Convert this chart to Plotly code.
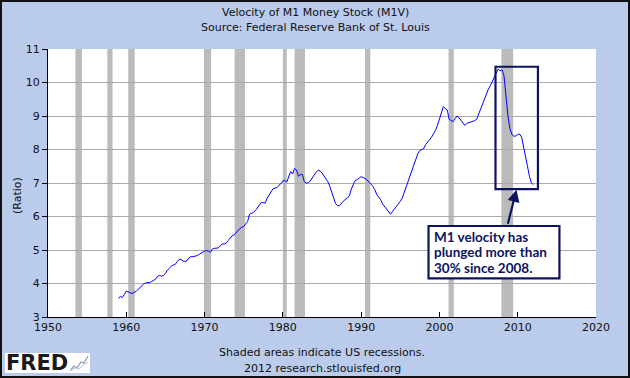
import plotly.graph_objects as go
import pandas as pd

# ---- data ----
start_quarter = "1959-01-01"
m1v = [
    3.55, 3.62, 3.58, 3.68,   # 1959
    3.77, 3.75, 3.72, 3.70,   # 1960
    3.74, 3.76, 3.82, 3.88,   # 1961
    3.95, 3.99, 4.02, 4.02,   # 1962
    4.03, 4.06, 4.09, 4.13,   # 1963
    4.22, 4.24, 4.22, 4.24,   # 1964
    4.30, 4.40, 4.45, 4.52,   # 1965
    4.55, 4.57, 4.65, 4.72,   # 1966
    4.72, 4.67, 4.66, 4.68,   # 1967
    4.76, 4.80, 4.80, 4.81,   # 1968
    4.83, 4.86, 4.90, 4.94,   # 1969
    4.97, 4.98, 4.97, 4.93,   # 1970
    5.03, 5.05, 5.05, 5.06,   # 1971
    5.12, 5.18, 5.18, 5.20,   # 1972
    5.28, 5.35, 5.42, 5.45,   # 1973
    5.50, 5.58, 5.63, 5.68,   # 1974
    5.70, 5.78, 5.85, 6.07,   # 1975
    6.10, 6.12, 6.18, 6.25,   # 1976
    6.32, 6.42, 6.41, 6.40,   # 1977
    6.55, 6.65, 6.75, 6.83,   # 1978
    6.85, 6.86, 6.93, 6.98,   # 1979
    7.06, 7.08, 7.03, 7.20,   # 1980
    7.34, 7.27, 7.43, 7.39,   # 1981
    7.20, 7.26, 7.25, 7.04,   # 1982
    7.00, 7.01, 7.06, 7.15,   # 1983
    7.25, 7.32, 7.38, 7.36,   # 1984
    7.30, 7.22, 7.12, 7.04,   # 1985
    6.90, 6.70, 6.55, 6.38,   # 1986
    6.32, 6.33, 6.40, 6.48,   # 1987
    6.52, 6.55, 6.62, 6.82,   # 1988
    6.98, 7.08, 7.10, 7.14,   # 1989
    7.19, 7.16, 7.14, 7.09,   # 1990
    7.04, 6.97, 6.90, 6.80,   # 1991
    6.65, 6.57, 6.50, 6.37,   # 1992
    6.30, 6.22, 6.15, 6.07,   # 1993
    6.15, 6.22, 6.28, 6.35,   # 1994
    6.45, 6.55, 6.72, 6.88,   # 1995
    7.05, 7.22, 7.42, 7.60,   # 1996
    7.78, 7.88, 7.97, 8.00,   # 1997
    8.03, 8.15, 8.22, 8.30,   # 1998
    8.37, 8.47, 8.57, 8.72,   # 1999
    8.90, 9.10, 9.28, 9.22,   # 2000
    9.18, 8.90, 8.86, 8.83,   # 2001
    8.92, 9.00, 8.95, 8.86,   # 2002
    8.80, 8.72, 8.78, 8.80,   # 2003
    8.81, 8.84, 8.86, 8.90,   # 2004
    9.05, 9.22, 9.38, 9.55,   # 2005
    9.67, 9.80, 9.90, 10.02,  # 2006
    10.15, 10.27, 10.40, 10.35,  # 2007
    10.38, 10.20, 9.60, 9.00,    # 2008
    8.62, 8.45, 8.40, 8.40,   # 2009
    8.45, 8.46, 8.37, 8.10,   # 2010
    7.85, 7.50, 7.20, 7.00,   # 2011
    6.95,                     # 2012
]
rec_start = ["1953-07-01", "1957-08-01", "1960-04-01", "1969-12-01", "1973-11-01",
             "1980-01-01", "1981-07-01", "1990-07-01", "2001-03-01", "2007-12-01"]
rec_end = ["1954-05-01", "1958-04-01", "1961-02-01", "1970-11-01", "1975-03-01",
           "1980-07-01", "1982-11-01", "1991-03-01", "2001-11-01", "2009-06-01"]
x_tick_years = list(range(1950, 2021, 10))
y_ticks = list(range(3, 12))
title_lines = ["Velocity of M1 Money Stock (M1V)", "Source: Federal Reserve Bank of St. Louis"]
footer_lines = ["Shaded areas indicate US recessions.", "2012 research.stlouisfed.org"]
note_lines = ["M1 velocity has", "plunged more than", "30% since 2008."]

dates = pd.date_range(start_quarter, periods=len(m1v), freq="QS")

# ---- layout geometry (pixels) ----
W, H = 630, 378
L, R, T, B = 48, 34, 49, 61
PW, PH = W - L - R, H - T - B

def px(xp):
    return (xp - L) / PW

def py(yp):
    return (H - B - yp) / PH

NAVY = "#0C1460"
BG = "#BACBEB"
FONT = "DejaVu Sans"

fig = go.Figure()
fig.add_trace(go.Scatter(x=dates, y=m1v, mode="lines",
                         line=dict(color="#0000FF", width=1), hoverinfo="skip"))

shapes = []
for s, e in zip(rec_start, rec_end):
    shapes.append(dict(type="rect", xref="x", yref="paper", x0=s, x1=e, y0=0, y1=1,
                       fillcolor="#BBBBBB", line=dict(width=0), layer="between"))
# highlight box
shapes.append(dict(type="rect", xref="x", yref="y", x0="2007-03-01", x1="2012-08-01",
                   y0=6.82, y1=10.47, line=dict(color=NAVY, width=2.2), layer="above"))
# note box
shapes.append(dict(type="rect", xref="x", yref="y", x0="1998-08-10", x1="2015-05-01",
                   y0=4.155, y1=5.716, fillcolor="white",
                   line=dict(color=NAVY, width=2.2), layer="above"))
# figure border
shapes.append(dict(type="rect", xref="paper", yref="paper",
                   x0=px(1), x1=px(W - 1), y0=py(H - 1), y1=py(1),
                   line=dict(color="#111111", width=2), layer="above"))
# FRED logo box
shapes.append(dict(type="rect", xref="paper", yref="paper",
                   x0=px(5), x1=px(90), y0=py(373), y1=py(353),
                   fillcolor="white", line=dict(width=0), layer="above"))
# small chart icon
icon = [(70, 371), (74, 366), (77, 368), (81, 362), (84, 363), (88, 356)]
path = "M " + " L ".join(f"{px(a):.5f},{py(b):.5f}" for a, b in icon)
shapes.append(dict(type="path", xref="paper", yref="paper", path=path,
                   line=dict(color="#8A9BB8", width=1.2), layer="above"))
icon2 = [(70, 371), (75, 368), (79, 369), (83, 365), (88, 362)]
path2 = "M " + " L ".join(f"{px(a):.5f},{py(b):.5f}" for a, b in icon2)
shapes.append(dict(type="path", xref="paper", yref="paper", path=path2,
                   line=dict(color="#B8C4D8", width=1), layer="above"))

annotations = []
for i, t in enumerate(title_lines):
    annotations.append(dict(text=t, xref="paper", yref="paper", x=px(315), y=py(12 + 16 * i),
                            xanchor="center", yanchor="middle", showarrow=False,
                            font=dict(family=FONT, size=11, color="#111111")))
for i, t in enumerate(footer_lines):
    annotations.append(dict(text=t, xref="paper", yref="paper", x=px(322), y=py(352 + 16 * i),
                            xanchor="center", yanchor="middle", showarrow=False,
                            font=dict(family=FONT, size=11, color="#111111")))
annotations.append(dict(text="(Ratio)", xref="paper", yref="paper", x=px(17), y=py(196),
                        textangle=-90, xanchor="center", yanchor="middle", showarrow=False,
                        font=dict(family=FONT, size=11, color="#111111")))
annotations.append(dict(text="<b>FRED</b>", xref="paper", yref="paper", x=px(4), y=py(363),
                        xanchor="left", yanchor="middle", showarrow=False,
                        font=dict(family=FONT, size=21, color="#1A1A1A")))
for i, t in enumerate(note_lines):
    annotations.append(dict(text="<b>" + t + "</b>", xref="paper", yref="paper",
                            x=px(432), y=py(237 + 15.5 * i),
                            xanchor="left", yanchor="middle", showarrow=False,
                            font=dict(family="Lato", size=13.5, color=NAVY)))
annotations.append(dict(text="", x="2009-11-05", y=6.80, xref="x", yref="y",
                        ax="2008-09-10", ay=5.74, axref="x", ayref="y",
                        showarrow=True, arrowhead=2, arrowsize=1.1, arrowwidth=2.2,
                        arrowcolor=NAVY))

fig.update_layout(
    width=W, height=H,
    margin=dict(l=L, r=R, t=T, b=B, pad=0),
    paper_bgcolor=BG, plot_bgcolor="white",
    showlegend=False,
    shapes=shapes, annotations=annotations,
    font=dict(family=FONT, size=11, color="#111111"),
)
fig.update_xaxes(
    type="date", range=["1950-01-01", "2020-01-01"],
    tickvals=[f"{y}-01-01" for y in x_tick_years], ticktext=[str(y) for y in x_tick_years],
    ticks="inside", ticklen=5, tickcolor="black", tickwidth=1,
    showgrid=False, zeroline=False, showline=True, linecolor="black", linewidth=1,
    tickfont=dict(family=FONT, size=11, color="#111111"),
)
fig.update_yaxes(
    range=[3, 11], tickvals=y_ticks, ticks="outside", ticklen=5, tickcolor="black",
    showgrid=True, gridcolor="#AAAAAA", gridwidth=1, zeroline=False,
    showline=True, linecolor="black", linewidth=1,
    tickfont=dict(family=FONT, size=11, color="#111111"),
)

fig.write_html("out.html", config={"displayModeBar": False},
               post_script="document.body.style.margin='0';document.body.style.padding='0';"
                           "document.body.style.overflow='hidden';")
